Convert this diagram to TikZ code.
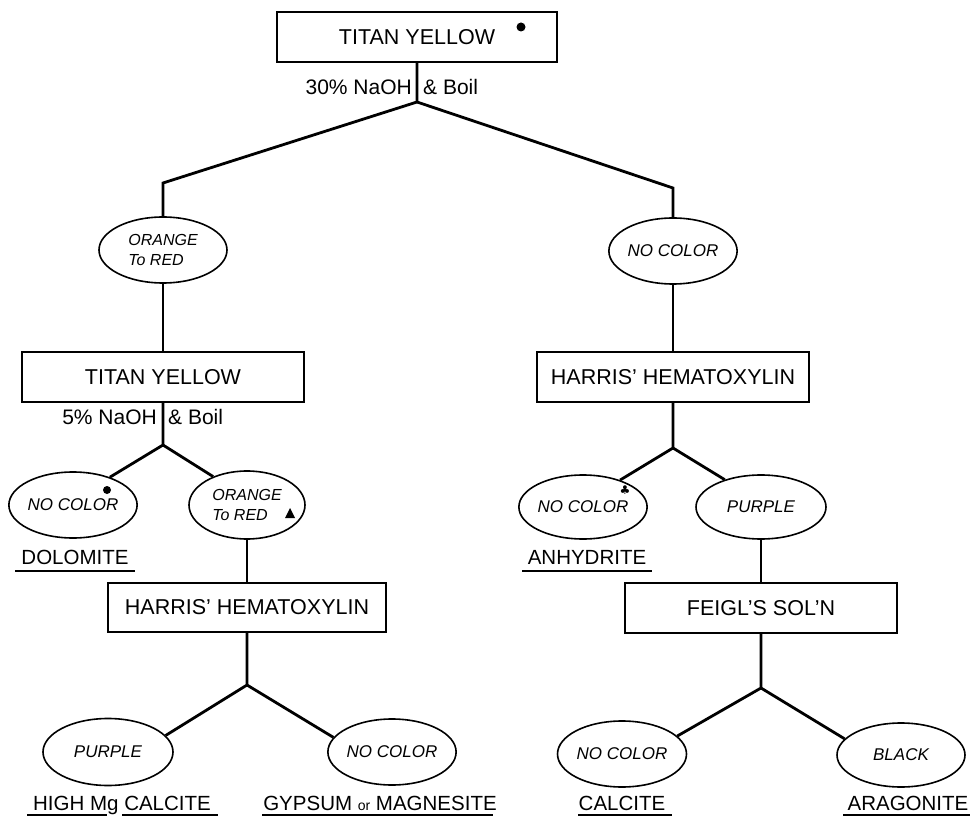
\documentclass[tikz,border=0pt]{standalone}
\usepackage{fontspec}
\setmainfont{Liberation Sans}
\newfontfamily\symf{DejaVu Sans}
\usetikzlibrary{shapes.geometric}
\begin{document}
\begin{tikzpicture}[x=1pt,y=-1pt,
 box/.style={draw,line width=1.8pt,rectangle,minimum height=50pt,inner sep=0pt,font=\fontsize{21.5}{21}\selectfont},
 oval/.style={draw,ellipse,line width=1.6pt,inner sep=0pt,minimum height=66pt,font=\fontsize{17}{19}\selectfont\itshape},
 ovaltwo/.style={oval,align=left,font=\fontsize{16}{20}\selectfont\itshape},
 conn/.style={line width=2.8pt,line join=miter},
 lab/.style={font=\fontsize{20.5}{21}\selectfont,inner sep=0pt,anchor=base},
 uline/.style={line width=2.2pt},
 cond/.style={font=\fontsize{21}{21}\selectfont,inner sep=0pt}]
\useasboundingbox (0,0) rectangle (977,818);

% top level
\node[box,minimum width=280pt] (t1) at (417,37) {TITAN YELLOW};
\fill (521,27) circle (4.5pt);
\node[cond,anchor=east] (c1a) at (412,87) {30\% NaOH};
\node[cond,anchor=west] (c1b) at (423,87) {\& Boil};
\coordinate (j1) at (417,102);
\coordinate (k1) at (163,183);
\coordinate (k2) at (673,188);
\node[ovaltwo,minimum width=128pt] (e1) at (163,250) {ORANGE\\To RED};
\node[oval,minimum width=127pt] (e2) at (673,251) {NO COLOR};
\draw[conn] (t1.south) -- (j1) -- (k1) -- (e1.north);
\draw[conn] (j1) -- (k2) -- (e2.north);

% second level
\node[box,minimum width=282pt] (b1) at (163,377) {TITAN YELLOW};
\node[box,minimum width=272pt] (b2) at (673,377) {HARRIS' HEMATOXYLIN};
\draw[conn] (e1.south) -- (b1.north);
\draw[conn] (e2.south) -- (b2.north);

% left branch
\node[cond,anchor=east] (c2a) at (157,417) {5\% NaOH};
\node[cond,anchor=west] (c2b) at (168,417) {\& Boil};
\coordinate (j2) at (163,445);
\node[oval,minimum width=128pt] (e3) at (73,505) {NO COLOR};
\fill (107,490) circle (4pt);
\node[ovaltwo,minimum width=116pt,minimum height=68pt] (e4) at (247,505) {ORANGE\\To RED};
\fill (285,518) -- (295,518) -- (290,508) -- cycle;
\draw[conn] (b1.south) -- (j2) -- (e3.37);
\draw[conn] (j2) -- (e4.140);
\node[lab] (l1) at (75,564.5) {DOLOMITE};
\draw[uline] (15,571) -- (135,571);

\node[box,minimum width=278pt,minimum height=49pt] (b3) at (247,607.5) {HARRIS' HEMATOXYLIN};
\draw[conn] (e4.south) -- (b3.north);
\coordinate (j3) at (247,685);
\node[oval,minimum width=130pt,minimum height=67pt] (e5) at (108,752) {PURPLE};
\node[oval,minimum width=128pt] (e6) at (392,752) {NO COLOR};
\draw[conn] (b3.south) -- (j3) -- (e5.16);
\draw[conn] (j3) -- (e6.166);
\node[lab] (l3) at (122,810.5) {HIGH Mg CALCITE};
\draw[uline] (27,815) -- (107,815);
\draw[uline] (122,815) -- (218,815);
\node[lab] (l4) at (380,810.5) {GYPSUM {\fontsize{14}{14}\selectfont or} MAGNESITE};
\draw[uline] (262,815) -- (493,815);

% right branch
\coordinate (j4) at (673,448);
\node[oval,minimum width=127pt,minimum height=64pt] (e7) at (583,507) {NO COLOR};
\node[inner sep=0pt,font=\symf\fontsize{12}{12}\selectfont] (m7) at (625,490) {♣};
\node[oval,minimum width=130pt,minimum height=64pt] (e8) at (761,507) {PURPLE};
\draw[conn] (b2.south) -- (j4) -- (e7.36);
\draw[conn] (j4) -- (e8.143);
\node[lab] (l2) at (587,564.5) {ANHYDRITE};
\draw[uline] (522,571) -- (652,571);

\node[box,minimum width=272pt] (b4) at (761,608) {FEIGL'S SOL'N};
\draw[conn] (e8.south) -- (b4.north);
\coordinate (j5) at (761,688);
\node[oval,minimum width=129pt] (e9) at (622,754) {NO COLOR};
\node[oval,minimum width=128pt,minimum height=64pt] (e10) at (901,755) {BLACK};
\draw[conn] (b4.south) -- (j5) -- (e9.18);
\draw[conn] (j5) -- (e10.164);
\node[lab] (l5) at (622,810.5) {CALCITE};
\draw[uline] (578,815) -- (672,815);
\node[lab] (l6) at (908,810.5) {ARAGONITE};
\draw[uline] (843,815) -- (970,815);
\end{tikzpicture}
\end{document}
